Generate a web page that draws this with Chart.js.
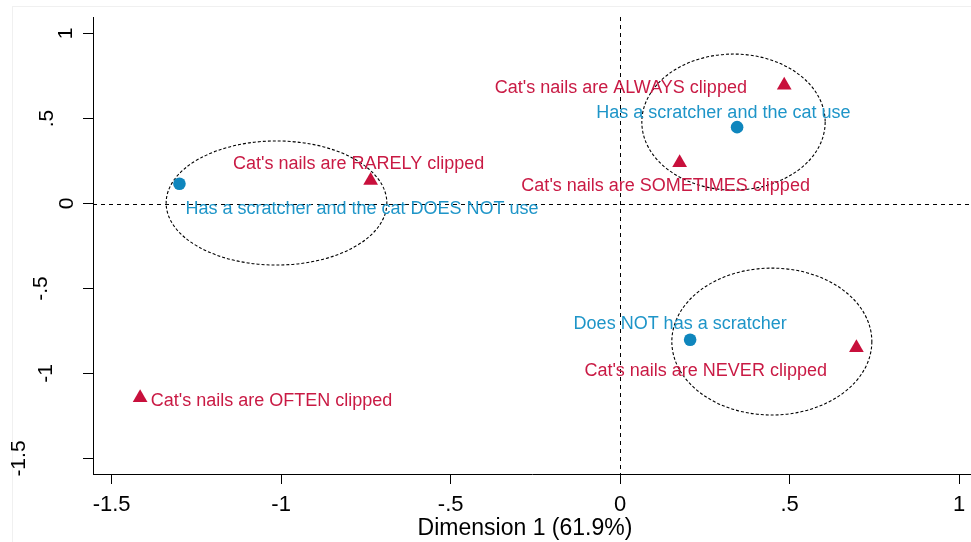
<!DOCTYPE html>
<html>
<head>
<meta charset="utf-8">
<script src="https://cdn.jsdelivr.net/npm/chart.js@4/dist/chart.umd.min.js"></script>
<style>
  html, body { margin: 0; padding: 0; background: #fff; }
  #wrap { width: 971px; height: 542px; }
</style>
</head>
<body>
<div id="wrap"><canvas id="c" width="971" height="542"></canvas></div>
<script>
// Correspondence analysis: scratcher ownership/use vs. nail clipping frequency
const scratcherLabels = [
  "Has a scratcher and the cat use",
  "Has a scratcher and the cat DOES NOT use",
  "Does NOT has a scratcher"
];
const scratcherDim1 = [0.345, -1.300, 0.2065];
const scratcherDim2 = [0.449, 0.116, -0.801];

const nailLabels = [
  "Cat's nails are ALWAYS clipped",
  "Cat's nails are SOMETIMES clipped",
  "Cat's nails are RARELY clipped",
  "Cat's nails are OFTEN clipped",
  "Cat's nails are NEVER clipped"
];
const nailDim1 = [0.484, 0.1755, -0.736, -1.416, 0.697];
const nailDim2 = [0.696, 0.240, 0.135, -1.142, -0.848];

// Cluster ellipses: [centre dim1, centre dim2, half-width, half-height]
const clusterEllipses = [
  [-1.0137, 0.003, 0.3255, 0.365],
  [0.3344, 0.479, 0.2704, 0.400],
  [0.4475, -0.812, 0.295, 0.432]
];

const xTicks = [-1.5, -1, -0.5, 0, 0.5, 1];
const xTickLabels = ["-1.5", "-1", "-.5", "0", ".5", "1"];
const yTicks = [-1.5, -1, -0.5, 0, 0.5, 1];
const yTickLabels = ["-1.5", "-1", "-.5", "0", ".5", "1"];
const xTitle = "Dimension 1 (61.9%)";

// ---- styling ----
const RED = "#c8103c";
const RED_TEXT = "#c91a44";
const BLUE = "#0f86bd";
const BLUE_TEXT = "#1e95c8";
const FONT = "'Liberation Sans', Arial, sans-serif";

// label placement per point: text alignment and offset (px) from the marker
const scratcherLabelPos = [
  { align: "center", dx: -13.7, dy: -16 },
  { align: "left", dx: 6, dy: 23.8 },
  { align: "center", dx: -10, dy: -17.5 }
];
const nailLabelPos = [
  { align: "right", dx: -37.3, dy: 1.6 },
  { align: "center", dx: -14, dy: 22.3 },
  { align: "center", dx: -12, dy: -18 },
  { align: "left", dx: 10.7, dy: 2 },
  { align: "right", dx: -29.5, dy: 22 }
];
// distance from the y axis line to the baseline of each rotated y label
const yLabelGap = [68, 41, 46, 20, 40, 21];

const toPoints = (xs, ys) => xs.map((x, i) => ({ x: x, y: ys[i] }));

const overlay = {
  id: "overlay",
  beforeDraw(chart) {
    const ctx = chart.ctx;
    ctx.save();
    ctx.fillStyle = "#fff";
    ctx.fillRect(0, 0, chart.width, chart.height);
    ctx.strokeStyle = "#f0f0f0";
    ctx.lineWidth = 1;
    ctx.strokeRect(12.5, 6.5, chart.width, chart.height);
    ctx.restore();
  },
  beforeDatasetsDraw(chart) {
    const ctx = chart.ctx;
    const xs = chart.scales.x, ys = chart.scales.y;
    const a = chart.chartArea;
    ctx.save();
    ctx.strokeStyle = "#000";
    ctx.lineWidth = 1;
    // reference lines at the origin
    ctx.setLineDash([4, 4]);
    const x0 = Math.round(xs.getPixelForValue(0)) + 0.5;
    const y0 = Math.round(ys.getPixelForValue(0)) + 0.5;
    ctx.beginPath();
    ctx.moveTo(x0, a.top); ctx.lineTo(x0, a.bottom);
    ctx.moveTo(a.left, y0); ctx.lineTo(a.right, y0);
    ctx.stroke();
    // cluster ellipses
    ctx.setLineDash([3, 2]);
    ctx.lineWidth = 1.1;
    clusterEllipses.forEach(e => {
      const cx = xs.getPixelForValue(e[0]);
      const cy = ys.getPixelForValue(e[1]);
      const rx = Math.abs(xs.getPixelForValue(e[0] + e[2]) - cx);
      const ry = Math.abs(ys.getPixelForValue(e[1] + e[3]) - cy);
      ctx.beginPath();
      ctx.ellipse(cx, cy, rx, ry, 0, 0, Math.PI * 2);
      ctx.stroke();
    });
    ctx.restore();
  },
  afterDraw(chart) {
    const ctx = chart.ctx;
    const xs = chart.scales.x, ys = chart.scales.y;
    const a = chart.chartArea;
    ctx.save();
    // point labels
    const size = 18;
    ctx.font = size + "px " + FONT;
    ctx.textBaseline = "alphabetic";
    const capMid = 0.358 * size;
    const drawLabels = (labels, xsV, ysV, pos, color) => {
      ctx.fillStyle = color;
      labels.forEach((t, i) => {
        const px = xs.getPixelForValue(xsV[i]);
        const py = ys.getPixelForValue(ysV[i]);
        ctx.textAlign = pos[i].align;
        ctx.fillText(t, px + pos[i].dx, py + pos[i].dy + capMid);
      });
    };
    drawLabels(scratcherLabels, scratcherDim1, scratcherDim2, scratcherLabelPos, BLUE_TEXT);
    drawLabels(nailLabels, nailDim1, nailDim2, nailLabelPos, RED_TEXT);

    // rotated y tick labels
    ctx.fillStyle = "#000";
    ctx.font = "21px " + FONT;
    ctx.textAlign = "center";
    ctx.textBaseline = "alphabetic";
    yTicks.forEach((v, i) => {
      const py = ys.getPixelForValue(v);
      ctx.save();
      ctx.translate(a.left - yLabelGap[i], py);
      ctx.rotate(-Math.PI / 2);
      ctx.fillText(yTickLabels[i], 0, 0);
      ctx.restore();
    });

    // x axis title
    ctx.font = "23px " + FONT;
    ctx.textAlign = "center";
    ctx.fillText(xTitle, (a.left + a.right) / 2 - 7, 527 + 0.358 * 23);
    ctx.restore();
  }
};

new Chart(document.getElementById("c"), {
  type: "scatter",
  data: {
    datasets: [
      {
        label: "Scratcher",
        data: toPoints(scratcherDim1, scratcherDim2),
        pointStyle: "circle",
        pointRadius: 6.3,
        backgroundColor: BLUE,
        borderWidth: 0
      },
      {
        label: "Nail clipping",
        data: toPoints(nailDim1, nailDim2),
        pointStyle: "triangle",
        pointRadius: 8.5,
        backgroundColor: RED,
        borderWidth: 0
      }
    ]
  },
  options: {
    responsive: false,
    animation: false,
    events: [],
    layout: { autoPadding: false, padding: { top: 17, right: 0, bottom: 0, left: 0 } },
    plugins: { legend: { display: false }, tooltip: { enabled: false } },
    scales: {
      x: {
        type: "linear",
        min: -1.555,
        max: 1.035,
        afterBuildTicks: s => { s.ticks = xTicks.map(v => ({ value: v })); },
        afterFit: s => { s.height = 68; s.paddingLeft = 0; s.paddingRight = 0; },
        ticks: {
          autoSkip: false,
          maxRotation: 0,
          padding: 8,
          color: "#000",
          font: { family: FONT, size: 22 },
          callback: v => xTickLabels[xTicks.indexOf(v)]
        },
        grid: { drawOnChartArea: false, drawTicks: true, tickLength: 10, color: "#000", lineWidth: 1 },
        border: { display: true, color: "#000", width: 1 }
      },
      y: {
        type: "linear",
        min: -1.591,
        max: 1.097,
        afterBuildTicks: s => { s.ticks = yTicks.map(v => ({ value: v })); },
        afterFit: s => { s.width = 93; s.paddingTop = 0; s.paddingBottom = 0; },
        ticks: { display: false },
        grid: { drawOnChartArea: false, drawTicks: true, tickLength: 10, color: "#000", lineWidth: 1 },
        border: { display: true, color: "#000", width: 1 }
      }
    }
  },
  plugins: [overlay]
});
</script>
</body>
</html>
